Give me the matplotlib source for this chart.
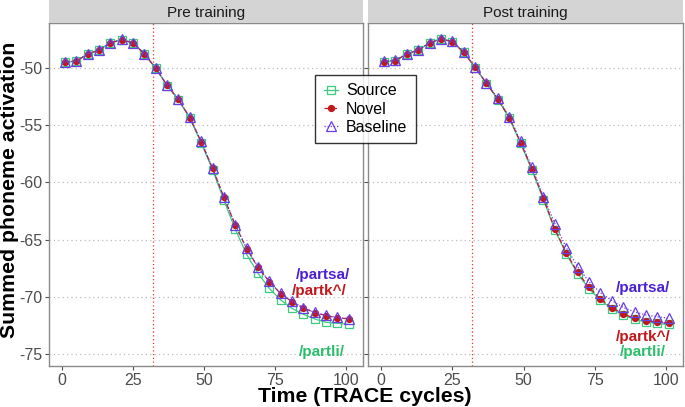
import matplotlib.pyplot as plt

plt.rcParams['font.family'] = ['Liberation Sans', 'DejaVu Sans']

# TRACE cycles sampled every 4 cycles
cycles = [1, 5, 9, 13, 17, 21, 25, 29, 33, 37, 41, 45, 49, 53, 57,
          61, 65, 69, 73, 77, 81, 85, 89, 93, 97, 101]

pre_source = [-49.50, -49.41, -48.78, -48.45, -47.81, -47.53, -47.81, -48.78, -50.03, -51.55, -52.80, -54.40, -56.55,
              -58.90, -61.55, -64.10, -66.29, -67.95, -69.26, -70.28, -71.01, -71.53, -71.94, -72.23, -72.32, -72.41]
pre_novel = [-49.50, -49.41, -48.78, -48.45, -47.81, -47.53, -47.81, -48.78, -50.03, -51.51, -52.74, -54.34, -56.44,
             -58.77, -61.30, -63.72, -65.79, -67.42, -68.68, -69.73, -70.43, -70.98, -71.39, -71.65, -71.83, -71.94]
pre_baseline = [-49.48, -49.39, -48.76, -48.43, -47.79, -47.51, -47.79, -48.76, -50.01, -51.49, -52.72, -54.32, -56.42,
                -58.75, -61.28, -63.70, -65.77, -67.40, -68.66, -69.71, -70.41, -70.96, -71.37, -71.63, -71.81, -71.92]

post_source = [-49.45, -49.36, -48.78, -48.45, -47.81, -47.46, -47.70, -48.63, -49.96, -51.38, -52.76, -54.40, -56.60,
               -58.95, -61.50, -64.15, -66.25, -67.98, -69.30, -70.30, -71.05, -71.60, -71.98, -72.20, -72.33, -72.42]
post_novel = [-49.45, -49.36, -48.78, -48.45, -47.81, -47.46, -47.70, -48.63, -49.94, -51.34, -52.71, -54.34, -56.53,
              -58.86, -61.40, -64.07, -66.14, -67.86, -69.17, -70.19, -70.95, -71.50, -71.88, -72.09, -72.23, -72.32]
post_baseline = [-49.43, -49.34, -48.76, -48.43, -47.79, -47.44, -47.68, -48.61, -49.92, -51.30, -52.65, -54.26, -56.40,
                 -58.70, -61.25, -63.60, -65.70, -67.37, -68.68, -69.64, -70.34, -70.92, -71.33, -71.59, -71.74, -71.88]

panel_titles = ['Pre training', 'Post training']
series_names = ['Source', 'Novel', 'Baseline']
x_ticks = [0, 25, 50, 75, 100]
y_ticks = [-50, -55, -60, -65, -70, -75]
onset = 32

# word labels per panel: (text, x, y, colour)
pre_labels = [('/partsa/', 92, -68.1, '#4a1fd6'),
              ('/partk^/', 90.5, -69.5, '#c0181c'),
              ('/partli/', 91.5, -74.8, '#2dbe6c')]
post_labels = [('/partsa/', 92, -69.2, '#4a1fd6'),
               ('/partk^/', 92, -73.5, '#c0181c'),
               ('/partli/', 92, -74.8, '#2dbe6c')]

GREEN = '#3ccb7f'
RED = '#c0181c'
PURPLE = '#6a3de8'

W, H = 685, 407
fig = plt.figure(figsize=(W / 100, H / 100), dpi=100)

panels = [(49, 363, pre_source, pre_novel, pre_baseline, pre_labels),
          (368, 683, post_source, post_novel, post_baseline, post_labels)]
top, bottom, strip_h = 23, 366, 23

handles = None
for i, (x0, x1, src, nov, base, labels) in enumerate(panels):
    ax = fig.add_axes([x0 / W, 1 - bottom / H, (x1 - x0) / W, (bottom - top) / H])
    ax.set_facecolor('white')
    ax.set_xlim(-4.6, 106)
    ax.set_ylim(-76.05, -46.07)
    for yv in y_ticks:
        ax.axhline(yv, color='#bdbdbd', lw=0.9, ls=(0, (1, 2.5)), zorder=0)
    ax.axvline(onset, color='#ee3333', lw=0.9, ls=(0, (1, 2)), zorder=1)

    h1, = ax.plot(cycles, src, color=GREEN, lw=0.9, ls='-', marker='s', ms=5.5,
                  mfc='none', mec=GREEN, mew=0.9, zorder=3)
    h2, = ax.plot(cycles, nov, color=RED, lw=0.9, ls=(0, (4, 2)), marker='o', ms=4.2,
                  mfc=RED, mec=RED, zorder=4)
    h3, = ax.plot(cycles, base, color=PURPLE, lw=0.9, ls=(0, (1, 1.5)), marker='^', ms=6.5,
                  mfc='none', mec=PURPLE, mew=0.9, zorder=5)
    handles = [h1, h2, h3]

    for txt, tx, ty, c in labels:
        ax.text(tx, ty, txt, color=c, fontsize=11, fontweight='bold', ha='center', va='center')

    ax.set_xticks(x_ticks)
    ax.set_xticklabels([str(t) for t in x_ticks])
    ax.set_yticks(y_ticks)
    if i == 0:
        ax.set_yticklabels([str(t) for t in y_ticks])
    else:
        ax.set_yticklabels([])
        ax.tick_params(axis='y', length=0)
    ax.tick_params(colors='#4d4d4d', labelsize=11.5, length=3, width=0.8, pad=2)
    ax.tick_params(axis='x', pad=2)
    for s in ax.spines.values():
        s.set_color('#8a8a8a')
        s.set_linewidth(1.0)

    # facet strip
    sx = fig.add_axes([x0 / W, 1 - top / H, (x1 - x0) / W, strip_h / H])
    sx.set_facecolor('#d4d4d4')
    sx.set_xticks([])
    sx.set_yticks([])
    for s in sx.spines.values():
        s.set_visible(False)
    sx.text(0.5, 0.45, panel_titles[i], ha='center', va='center', fontsize=11, color='#1a1a1a',
            transform=sx.transAxes)

leg = fig.legend(handles, series_names, loc='center', bbox_to_anchor=(365.5 / W, 1 - 109 / H),
                 fontsize=11.5, frameon=True, fancybox=False, edgecolor='black', handlelength=0.9,
                 handletextpad=0.5, borderpad=0.55, labelspacing=0.2, borderaxespad=0)
leg.get_frame().set_linewidth(1.0)

fig.text(365 / W, 1 - 396 / H, 'Time (TRACE cycles)', ha='center', va='center',
         fontsize=15.3, fontweight='bold')
fig.text(10 / W, 1 - 190 / H, 'Summed phoneme activation', ha='center', va='center',
         rotation=90, fontsize=15.3, fontweight='bold')

fig.savefig('out.png', dpi=100)
